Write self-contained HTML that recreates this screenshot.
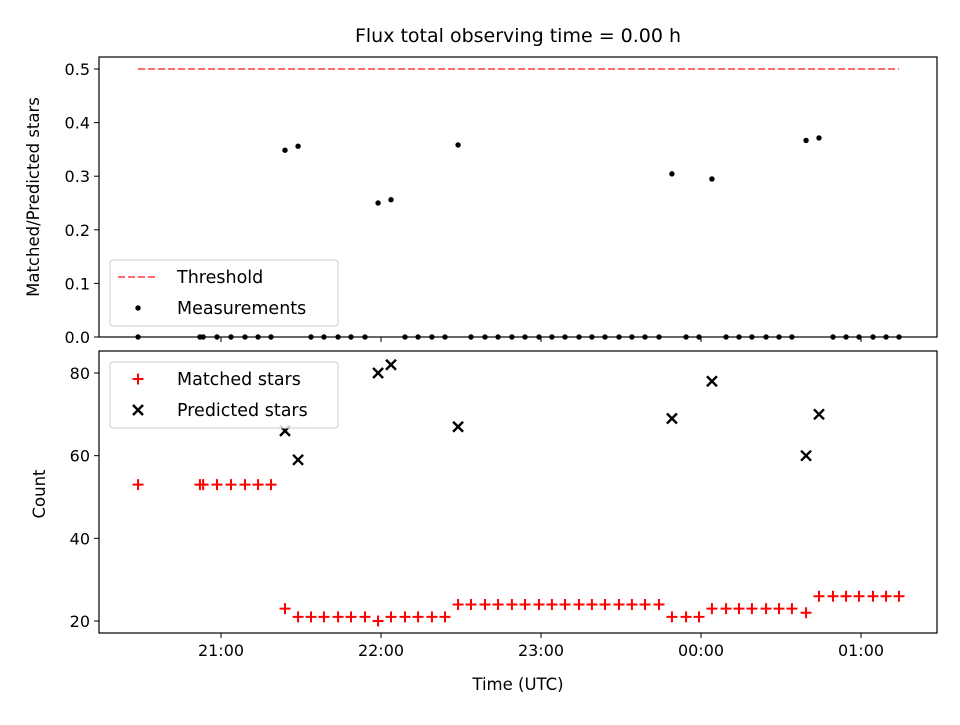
<!DOCTYPE html>
<html><head><meta charset="utf-8"><style>
body{margin:0;background:#fff;}
svg{font-family:"DejaVu Sans","Liberation Sans",sans-serif;}
</style></head><body>
<svg id="c" width="960" height="720"></svg>
<script>
const times=[28.9,52.1,53.3,58.5,63.75,69,73.9,78.75,84,88.9,93.75,98.6,103.9,108.75,114,118.9,123.75,129,133.9,139.1,144,148.9,153.75,159,163.9,169.1,174,179.25,184.1,189,194.25,199.1,204,209.25,214.1,219,224.25,229.1,234.4,239.25,244.1,249.4,254.25,259.1,264.4,269.25,274.1,279.4,284.25,289.5,294.4,299.25,304.5,309.4,314.25];
const matched=[53,53,53,53,53,53,53,53,23,21,21,21,21,21,21,20,21,21,21,21,21,24,24,24,24,24,24,24,24,24,24,24,24,24,24,24,24,21,21,21,23,23,23,23,23,23,23,22,26,26,26,26,26,26,26];
const predicted=[0,0,0,0,0,0,0,0,66,59,0,0,0,0,0,80,82,0,0,0,0,67,0,0,0,0,0,0,0,0,0,0,0,0,0,0,0,69,0,0,78,0,0,0,0,0,0,60,70,0,0,0,0,0,0];
const threshold=0.5;
const xTickVals=[60,120,180,240,300];
const xTickLabels=["21:00","22:00","23:00","00:00","01:00"];
const topTicks=[0,0.1,0.2,0.3,0.4,0.5];
const botTicks=[20,40,60,80];

const NS="http://www.w3.org/2000/svg";
const svg=document.getElementById('c');
function el(t,a,p){const e=document.createElementNS(NS,t);for(const k in a)e.setAttribute(k,a[k]);(p||svg).appendChild(e);return e;}
const L=99,R=937;
const x=m=>221+(m-60)*160/60;
const T={t:57,b:337,y:v=>337-v*536};
const B={t:351,b:633,y:v=>621-(v-20)*248/60};

let tt=el('text',{x:518,y:42,'text-anchor':'middle','font-size':19});tt.textContent='Flux total observing time = 0.00 h';


function frame(P,name){
  const r=el('rect',{x:L,y:P.t,width:R-L,height:P.b-P.t,fill:'none',stroke:'#000','stroke-width':1.2});
  
  xTickVals.forEach(v=>{const l=el('line',{x1:x(v),x2:x(v),y1:P.b,y2:P.b+5,stroke:'#000'});
    });
}
frame(T,'top-axes');frame(B,'bottom-axes');
xTickVals.forEach((v,i)=>{const t=el('text',{x:x(v),y:B.b+23,'text-anchor':'middle','font-size':16});t.textContent=xTickLabels[i];
  });
topTicks.forEach(v=>{el('line',{x1:L-5,x2:L,y1:T.y(v),y2:T.y(v),stroke:'#000'});
  const t=el('text',{x:L-9,y:T.y(v)+6,'text-anchor':'end','font-size':16});t.textContent=v.toFixed(1);
  });
botTicks.forEach(v=>{el('line',{x1:L-5,x2:L,y1:B.y(v),y2:B.y(v),stroke:'#000'});
  const t=el('text',{x:L-9,y:B.y(v)+6,'text-anchor':'end','font-size':16});t.textContent=v;
  });
let yl=el('text',{transform:'translate(39,197) rotate(-90)','text-anchor':'middle','font-size':16.5});yl.textContent='Matched/Predicted stars';

let yl2=el('text',{transform:'translate(45,494) rotate(-90)','text-anchor':'middle','font-size':16.5});yl2.textContent='Count';

let xl=el('text',{x:518,y:690,'text-anchor':'middle','font-size':16.5});xl.textContent='Time (UTC)';


const th=el('line',{x1:x(times[0]),x2:x(times[times.length-1]),y1:T.y(threshold),y2:T.y(threshold),stroke:'#ff6b6b','stroke-width':2,'stroke-dasharray':'7,3'});

times.forEach((m,i)=>{const v=predicted[i]>0?matched[i]/predicted[i]:0;
  const c=el('circle',{cx:x(m),cy:T.y(v),r:2.7,fill:'#000'});
  });
times.forEach((m,i)=>{const cx=x(m),cy=B.y(matched[i]);
  const p=el('path',{d:`M${cx-5.5},${cy}H${cx+5.5}M${cx},${cy-5.5}V${cy+5.5}`,stroke:'#f00','stroke-width':2});
  });
times.forEach((m,i)=>{if(predicted[i]<=0)return;const cx=x(m),cy=B.y(predicted[i]);
  const p=el('path',{d:`M${cx-5},${cy-5}L${cx+5},${cy+5}M${cx-5},${cy+5}L${cx+5},${cy-5}`,stroke:'#000','stroke-width':2.4});
  });

function legend(y0,name,items){
  const g=el('g',{});
  el('rect',{x:110,y:y0,width:228,height:66,rx:3,fill:'#fff','fill-opacity':0.8,stroke:'#ccc'},g);
  items.forEach((it,i)=>{const cy=y0+17+i*31;it.draw(g,138,cy);
    const t=el('text',{x:177,y:cy+6,'font-size':17.5},g);t.textContent=it.label;});
}
legend(260,'top-legend',[
 {label:'Threshold',draw:(g,cx,cy)=>el('line',{x1:cx-20,x2:cx+18,y1:cy,y2:cy,stroke:'#ff6b6b','stroke-width':2,'stroke-dasharray':'7,3'},g)},
 {label:'Measurements',draw:(g,cx,cy)=>el('circle',{cx:cx,cy:cy,r:2.7,fill:'#000'},g)}]);
legend(362,'bottom-legend',[
 {label:'Matched stars',draw:(g,cx,cy)=>el('path',{d:`M${cx-5.5},${cy}H${cx+5.5}M${cx},${cy-5.5}V${cy+5.5}`,stroke:'#f00','stroke-width':2},g)},
 {label:'Predicted stars',draw:(g,cx,cy)=>el('path',{d:`M${cx-5},${cy-5}L${cx+5},${cy+5}M${cx-5},${cy+5}L${cx+5},${cy-5}`,stroke:'#000','stroke-width':2.4},g)}]);
</script>
</body></html>
